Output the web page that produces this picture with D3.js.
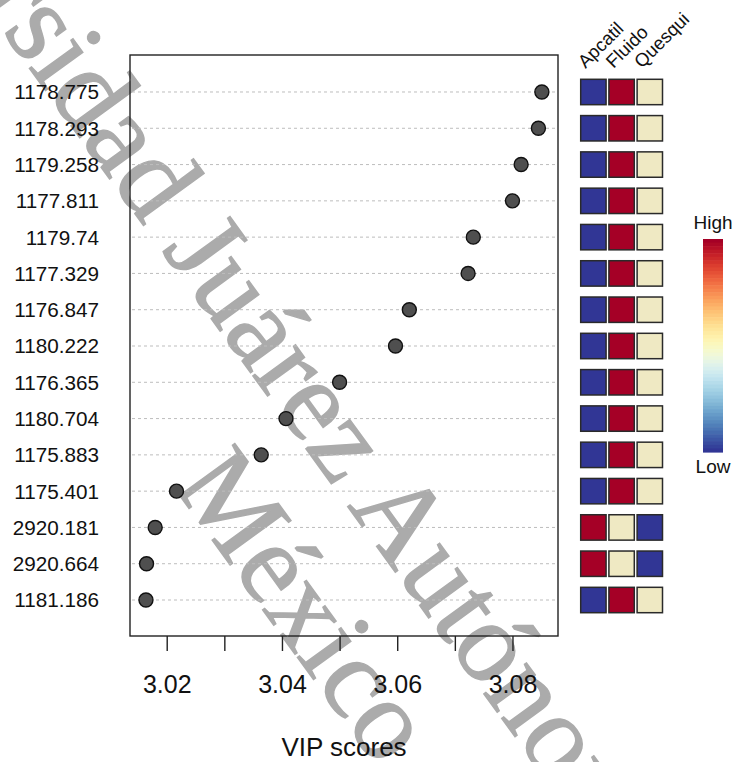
<!DOCTYPE html>
<html>
<head>
<meta charset="utf-8">
<script src="https://cdn.jsdelivr.net/npm/d3@7"></script>
<style>
  html, body { margin: 0; padding: 0; background: #fff; }
  svg { display: block; }
</style>
</head>
<body>
<svg id="chart" width="735" height="762"></svg>
<script>
// Features (m/z) ordered by VIP score, highest first
const features = ["1178.775","1178.293","1179.258","1177.811","1179.74","1177.329",
  "1176.847","1180.222","1176.365","1180.704","1175.883","1175.401",
  "2920.181","2920.664","1181.186"];
const vipScores = [3.0851,3.0845,3.0815,3.0800,3.0732,3.0723,
  3.0621,3.0597,3.0500,3.0407,3.0364,3.0217,
  3.0180,3.0165,3.0164];

// Relative abundance per group: 1 = low, 2 = middle, 3 = high
const groups = ["Apcatil","Fluido","Quesqui"];
const apcatil = [1,1,1,1,1,1,1,1,1,1,1,1,3,3,1];
const fluido  = [3,3,3,3,3,3,3,3,3,3,3,3,2,2,3];
const quesqui = [2,2,2,2,2,2,2,2,2,2,2,2,1,1,2];
const levels = [apcatil, fluido, quesqui];

const xTicks = [3.02,3.03,3.04,3.05,3.06,3.07,3.08];
const xTickLabels = ["3.02","","3.04","","3.06","","3.08"];

const svg = d3.select("#chart");
const plot = {left: 130, right: 558, top: 55, bottom: 636};

const x = d3.scaleLinear().domain([3.01363, 3.0879]).range([plot.left, plot.right]);
const y = d3.scaleLinear().domain([0, features.length + 1]).range([plot.top + 0.7, plot.bottom + 0.3]);

// institutional watermark (drawn underneath the chart)
const wm = svg.append("g")
  .attr("font-family", "Liberation Serif, Times New Roman, serif")
  .attr("font-size", 115)
  .attr("fill", "#ababab").attr("stroke", "#ababab").attr("stroke-width", 1.4);
wm.append("text").attr("transform", "translate(-186,-228) rotate(54)")
  .text("Universidad Juárez Autónoma de Tabasco");
wm.append("text").attr("transform", "translate(172,485) rotate(54)")
  .text("México");

// dashed guide lines per feature
svg.append("g").selectAll("line").data(features).join("line")
  .attr("x1", plot.left + 2).attr("x2", plot.right - 2)
  .attr("y1", (d, i) => y(i + 1)).attr("y2", (d, i) => y(i + 1))
  .attr("stroke", "#bdbdbd").attr("stroke-width", 1)
  .attr("stroke-dasharray", "3,3");

// VIP points
svg.append("g").selectAll("circle").data(vipScores).join("circle")
  .attr("cx", d => x(d)).attr("cy", (d, i) => y(i + 1)).attr("r", 7)
  .attr("fill", "#4f4f4f").attr("stroke", "#111").attr("stroke-width", 1.4);

// frame
svg.append("rect")
  .attr("x", plot.left).attr("y", plot.top)
  .attr("width", plot.right - plot.left).attr("height", plot.bottom - plot.top)
  .attr("fill", "none").attr("stroke", "#222").attr("stroke-width", 1.4);

// y labels
svg.append("g").selectAll("text").data(features).join("text")
  .attr("x", 99).attr("y", (d, i) => y(i + 1))
  .attr("dy", "0.36em").attr("text-anchor", "end")
  .attr("font-family", "Liberation Sans, Arial, sans-serif")
  .attr("font-size", 20.7).attr("fill", "#111")
  .text(d => d);

// x axis
const xAxis = d3.axisBottom(x).tickValues(xTicks)
  .tickFormat((d, i) => xTickLabels[i]).tickSize(15).tickPadding(24);
const gx = svg.append("g").attr("transform", `translate(0,${plot.bottom})`).call(xAxis);
gx.select(".domain").remove();
gx.selectAll(".tick line").attr("stroke", "#222").attr("stroke-width", 1.4);
gx.selectAll(".tick text")
  .attr("font-family", "Liberation Sans, Arial, sans-serif")
  .attr("font-size", 25).attr("fill", "#111");

svg.append("text")
  .attr("x", (plot.left + plot.right) / 2).attr("y", 756)
  .attr("text-anchor", "middle")
  .attr("font-family", "Liberation Sans, Arial, sans-serif")
  .attr("font-size", 26).attr("fill", "#111")
  .text("VIP scores");

// group abundance tiles
const levelColor = d3.scaleOrdinal().domain([1, 2, 3]).range(["#313695", "#efe9c3", "#a50026"]);
const colX = d3.scaleBand().domain(groups).range([580.7, 662.5]).paddingInner(0.1);
groups.forEach((g, gi) => {
  svg.append("g").selectAll("rect").data(levels[gi]).join("rect")
    .attr("x", colX(g))
    .attr("y", (d, i) => y(i + 1) - colX.bandwidth() / 2)
    .attr("width", colX.bandwidth()).attr("height", colX.bandwidth())
    .attr("fill", d => levelColor(d))
    .attr("stroke", "#2a2a2a").attr("stroke-width", 1.5);
});

// group names
svg.append("g").selectAll("text").data(groups).join("text")
  .attr("transform", g => `translate(${colX(g) + colX.bandwidth() / 2 - 8},69) rotate(-45)`)
  .attr("font-family", "Liberation Sans, Arial, sans-serif")
  .attr("font-size", 18.5).attr("fill", "#111")
  .text(g => g);

// colour key
const barTop = 239, barBottom = 452, barX = 703, barW = 20, nBands = 60;
const bandH = (barBottom - barTop) / nBands;
svg.append("g").selectAll("rect").data(d3.range(nBands)).join("rect")
  .attr("x", barX).attr("y", i => barTop + i * bandH)
  .attr("width", barW).attr("height", bandH + 0.6)
  .attr("fill", i => d3.interpolateRdYlBu(i / (nBands - 1)));
svg.append("text").attr("x", barX + barW / 2).attr("y", 229)
  .attr("text-anchor", "middle")
  .attr("font-family", "Liberation Sans, Arial, sans-serif")
  .attr("font-size", 19).attr("fill", "#111").text("High");
svg.append("text").attr("x", barX + barW / 2).attr("y", 473)
  .attr("text-anchor", "middle")
  .attr("font-family", "Liberation Sans, Arial, sans-serif")
  .attr("font-size", 19).attr("fill", "#111").text("Low");
</script>
</body>
</html>
